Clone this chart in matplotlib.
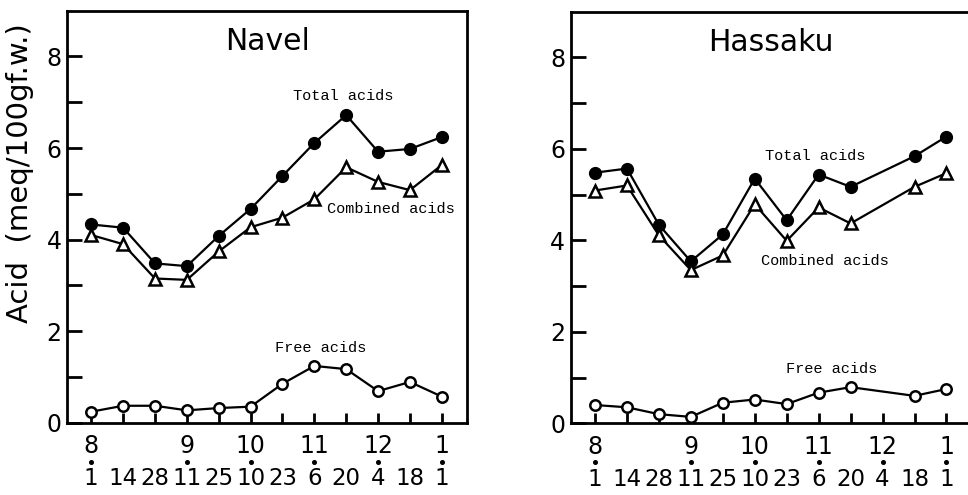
import matplotlib
matplotlib.use("Agg")
import matplotlib.pyplot as plt
import matplotlib.transforms as mtransforms
import numpy as np

# sampling dates (month / day), equally spaced on the x axis
days = ["1", "14", "28", "11", "25", "10", "23", "6", "20", "4", "18", "1"]
month_pos = [0, 3, 5, 7, 9, 11]
months = ["8", "9", "10", "11", "12", "1"]

# Navel
navel_idx = list(range(12))
navel_total = [4.33, 4.26, 3.48, 3.42, 4.08, 4.67, 5.39, 6.11, 6.72, 5.92, 5.98, 6.24]
navel_combined = [4.10, 3.90, 3.15, 3.12, 3.74, 4.27, 4.48, 4.88, 5.58, 5.26, 5.08, 5.63]
navel_free = [0.24, 0.37, 0.37, 0.27, 0.32, 0.35, 0.85, 1.24, 1.17, 0.69, 0.89, 0.57]

# Hassaku (no sample on 12/4)
hassaku_idx = [0, 1, 2, 3, 4, 5, 6, 7, 8, 10, 11]
hassaku_total = [5.48, 5.57, 4.34, 3.54, 4.13, 5.35, 4.44, 5.44, 5.17, 5.84, 6.27]
hassaku_combined = [5.09, 5.20, 4.11, 3.35, 3.67, 4.79, 3.99, 4.72, 4.37, 5.17, 5.47]
hassaku_free = [0.40, 0.35, 0.20, 0.14, 0.45, 0.52, 0.42, 0.67, 0.79, 0.60, 0.75]

note_font = ["Liberation Mono", "DejaVu Sans Mono"]


def panel(ax, title, idx, total, combined, free, notes):
    lw = 1.6
    ax.plot(idx, total, color="black", lw=lw, marker="o", ms=8.5,
            mfc="black", mec="black", zorder=3)
    ax.plot(idx, combined, color="black", lw=lw, marker="^", ms=8,
            mfc="white", mec="black", mew=1.8, zorder=3)
    ax.plot(idx, free, color="black", lw=lw, marker="o", ms=7.5,
            mfc="white", mec="black", mew=1.8, zorder=3)

    ax.set_xlim(-0.76, 11.79)
    ax.set_ylim(0, 9)
    for s in ax.spines.values():
        s.set_linewidth(2)

    ax.set_yticks(np.arange(0, 9, 1))
    ax.set_yticklabels(["0", "", "2", "", "4", "", "6", "", "8"])
    ax.tick_params(axis="y", direction="in", length=11, width=2, pad=4,
                   labelsize=17)

    ax.set_xticks(range(12))
    ax.set_xticklabels([])
    ax.tick_params(axis="x", direction="in", length=7, width=2)

    # two-row date labels: month, a dot, then the day
    for i, d in enumerate(days):
        ax.annotate(d, (i, 0), xycoords=("data", "axes fraction"),
                    xytext=(0, -40.5), textcoords="offset points",
                    ha="center", va="center", fontsize=16.5)
    dot_tr = mtransforms.blended_transform_factory(ax.transData, ax.transAxes) + \
        mtransforms.ScaledTranslation(0, -28 / 72, ax.figure.dpi_scale_trans)
    ax.plot(month_pos, [0] * len(month_pos), ls="none", marker="o", ms=2.6,
            color="black", transform=dot_tr, clip_on=False)
    for p, m in zip(month_pos, months):
        ax.annotate(m, (p, 0), xycoords=("data", "axes fraction"),
                    xytext=(0, -17), textcoords="offset points",
                    ha="center", va="center", fontsize=17)

    ax.text(0.5, 0.925, title, transform=ax.transAxes, ha="center",
            va="center", fontsize=21.5)
    for txt, x, y in notes:
        ax.text(x, y, txt, ha="center", va="center", fontsize=11,
                family=note_font)


fig = plt.figure(figsize=(9.68, 4.95), dpi=100)
ax1 = fig.add_axes([67 / 968, 72.3 / 495, 400 / 968, 412 / 495])
ax2 = fig.add_axes([570.7 / 968, 71.7 / 495, 401 / 968, 411.6 / 495])

panel(ax1, "Navel", navel_idx, navel_total, navel_combined, navel_free,
      [("Total acids", 7.9, 7.13), ("Combined acids", 9.4, 4.66),
       ("Free acids", 7.2, 1.64)])
panel(ax2, "Hassaku", hassaku_idx, hassaku_total, hassaku_combined, hassaku_free,
      [("Total acids", 6.9, 5.84), ("Combined acids", 7.2, 3.55),
       ("Free acids", 7.4, 1.18)])

fig.text(20 / 968, 322 / 495, "Acid  (meq/100gf.w.)", rotation=90,
         ha="center", va="center", fontsize=21)

fig.savefig("out.png", dpi=100)
